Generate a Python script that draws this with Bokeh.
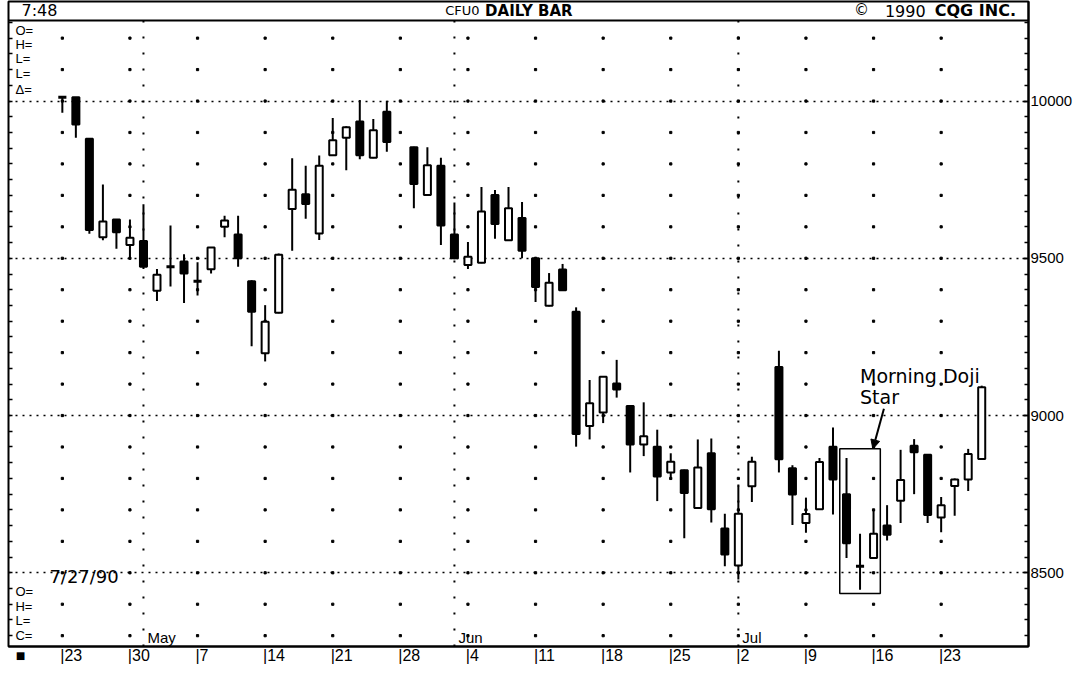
import numpy as np
from bokeh.plotting import figure
from bokeh.models import (ColumnDataSource, FixedTicker, LinearAxis, Label, Span,
                          BoxAnnotation, Arrow, NormalHead, Range1d, CustomJSTickFormatter)
from bokeh.embed import file_html
from bokeh.resources import INLINE

# ---------------- data ----------------
dates = ["1990-04-23", "1990-04-24", "1990-04-25", "1990-04-26", "1990-04-27",
         "1990-04-30", "1990-05-01", "1990-05-02", "1990-05-03", "1990-05-04",
         "1990-05-07", "1990-05-08", "1990-05-09", "1990-05-10", "1990-05-11",
         "1990-05-14", "1990-05-15", "1990-05-16", "1990-05-17", "1990-05-18",
         "1990-05-21", "1990-05-22", "1990-05-23", "1990-05-24", "1990-05-25",
         "1990-05-29", "1990-05-30", "1990-05-31", "1990-06-01",
         "1990-06-04", "1990-06-05", "1990-06-06", "1990-06-07", "1990-06-08",
         "1990-06-11", "1990-06-12", "1990-06-13", "1990-06-14", "1990-06-15",
         "1990-06-18", "1990-06-19", "1990-06-20", "1990-06-21", "1990-06-22",
         "1990-06-25", "1990-06-26", "1990-06-27", "1990-06-28", "1990-06-29",
         "1990-07-02", "1990-07-03", "1990-07-05", "1990-07-06",
         "1990-07-09", "1990-07-10", "1990-07-11", "1990-07-12", "1990-07-13",
         "1990-07-16", "1990-07-17", "1990-07-18", "1990-07-19", "1990-07-20",
         "1990-07-23", "1990-07-24", "1990-07-25", "1990-07-26"]

opens = [10012, 10012, 9880, 9567, 9623,
         9542, 9555, 9397, 9473, 9490,
         9427, 9465, 9600, 9576, 9427,
         9198, 9327, 9657, 9704, 9579,
         9828, 9883, 9935, 9820, 9966,
         9853, 9701, 9794, 9576,
         9479, 9486, 9701, 9557, 9628,
         9500, 9349, 9464, 9330, 8967,
         9010, 9102, 9030, 8908, 8901,
         8819, 8826, 8706, 8880, 8641,
         8523, 8775, 9154, 8832,
         8658, 8702, 8901, 8750, 8521,
         8547, 8650, 8729, 8904, 8875,
         8676, 8776, 8797, 8862]

highs = [10012, 10012, 9880, 9735, 9625,
         9623, 9672, 9466, 9604, 9513,
         9487, 9536, 9635, 9635, 9430,
         9351, 9515, 9818, 9794, 9827,
         9946, 9920, 10003, 9943, 10001,
         9855, 9853, 9820, 9677,
         9552, 9727, 9717, 9727, 9679,
         9502, 9453, 9482, 9344, 9113,
         9125, 9177, 9032, 9042, 8955,
         8880, 8828, 8924, 8927, 8688,
         8777, 8869, 9206, 8842,
         8739, 8865, 8962, 8865, 8624,
         8700, 8715, 8891, 8925, 8877,
         8741, 8800, 8894, 9095]

lows = [9963, 9883, 9578, 9557, 9530,
        9500, 9466, 9364, 9410, 9358,
        9382, 9452, 9567, 9473, 9220,
        9172, 9325, 9524, 9626, 9558,
        9825, 9780, 9815, 9818, 9839,
        9659, 9700, 9542, 9497,
        9466, 9484, 9562, 9555, 9500,
        9361, 9347, 9396, 8901, 8924,
        8976, 9057, 8819, 8871, 8728,
        8796, 8610, 8704, 8660, 8521,
        8479, 8725, 8819, 8652,
        8627, 8700, 8685, 8547, 8446,
        8545, 8603, 8658, 8750, 8658,
        8629, 8681, 8760, 8860]

closes = [10012, 9925, 9590, 9617, 9583,
          9565, 9473, 9448, 9473, 9452,
          9427, 9534, 9620, 9500, 9330,
          9298, 9511, 9718, 9673, 9794,
          9875, 9917, 9828, 9907, 9870,
          9736, 9796, 9604, 9500,
          9505, 9649, 9609, 9659, 9524,
          9409, 9422, 9398, 8941, 9039,
          9123, 9083, 8908, 8934, 8806,
          8853, 8754, 8835, 8702, 8558,
          8688, 8853, 8861, 8749,
          8687, 8852, 8797, 8594, 8521,
          8624, 8621, 8795, 8883, 8684,
          8715, 8797, 8878, 9090]

week_starts = ["1990-04-23", "1990-04-30", "1990-05-07", "1990-05-14", "1990-05-21",
               "1990-05-28", "1990-06-04", "1990-06-11", "1990-06-18", "1990-06-25",
               "1990-07-02", "1990-07-09", "1990-07-16", "1990-07-23"]
week_labels = ["23", "30", "7", "14", "21", "28", "4", "11", "18", "25", "2", "9", "16", "23"]
month_starts = ["1990-05-01", "1990-06-01", "1990-07-02"]
month_labels = ["May", "Jun", "Jul"]
price_ticks = [8500, 9000, 9500, 10000]
top_fields = ["O=", "H=", "L=", "L=", "\u0394="]
bottom_fields = ["O=", "H=", "L=", "C="]
chart_date = "7/27/90"
pattern_dates = ["1990-07-12", "1990-07-13", "1990-07-16"]
pattern_text = ["Morning Doji", "Star"]

FIRST = np.datetime64("1990-04-23")


def slot_of(ds):
    return np.busday_count(FIRST, np.array(ds, dtype="datetime64[D]")).astype(float)


# ---------------- geometry ----------------
SLOT_PX = 13.56      # px per trading-day slot
X0 = 62.0            # x of first slot
Y10K = 108.0         # y of 10000 (reference)
PPU = 3.125          # price units per px (reference)
W, H = 1075, 666
F_LEFT, F_RIGHT, F_TOP, F_BOTTOM = 8, 1031, 1, 648   # frame in figure px
REF_HDR, REF_BOT = 26.0, 663.0
FIG_HDR = 20.0
K = (F_BOTTOM - FIG_HDR) / (REF_BOT - REF_HDR)
FONT = "Liberation Sans"
DV = "DejaVu Sans"


def dx(rx):
    return (rx - X0) / SLOT_PX


def dy(ry):
    return 10000 - (ry - Y10K) * PPU


def fig2ref_y(fy):
    return REF_HDR + (fy - FIG_HDR) / K


y_lo = dy(fig2ref_y(F_BOTTOM))
y_hi = dy(fig2ref_y(F_TOP))
y_hdr = dy(REF_HDR)

p = figure(width=W, height=H, output_backend="svg", toolbar_location=None,
           x_range=Range1d(dx(F_LEFT), dx(F_RIGHT)),
           y_range=Range1d(y_lo, y_hi),
           y_axis_location="right",
           min_border_left=F_LEFT, min_border_right=W - F_RIGHT,
           min_border_top=F_TOP, min_border_bottom=H - F_BOTTOM,
           background_fill_color="white", border_fill_color="white")
p.outline_line_color = "black"
p.outline_line_width = 2

# horizontal dotted grid lines
p.xgrid.visible = False
p.ygrid.ticker = FixedTicker(ticks=price_ticks)
p.ygrid.grid_line_color = "black"
p.ygrid.grid_line_dash = "2 5"
p.ygrid.grid_line_width = 1.5

# month dotted verticals (stop at header line)
ms = slot_of(month_starts)
p.segment(x0=ms, y0=np.full(len(ms), y_lo), x1=ms, y1=np.full(len(ms), y_hdr),
          line_color="black", line_width=2, line_dash="2 14")

# sparse dot grid: weekly x 100-point levels
wk = slot_of(week_starts)
levels = np.arange(8300, 10201, 100)
gx, gy = np.meshgrid(wk, levels)
p.scatter(gx.ravel(), gy.ravel(), marker="square", size=2.2, color="black")

# header line
p.add_layout(Span(location=y_hdr, dimension="width", line_color="black", line_width=2))

# candles
o = np.array(opens, float)
c = np.array(closes, float)
hi = np.array(highs, float)
lo = np.array(lows, float)
xs = slot_of(dates)
body = c != o
src = ColumnDataSource(dict(x=xs[body], top=np.maximum(o, c)[body], bottom=np.minimum(o, c)[body],
                            fill=np.where(c > o, "white", "black")[body]))
p.segment(x0=xs, y0=hi, x1=xs, y1=lo, line_color="black", line_width=2)
p.vbar(x="x", width=0.52, top="top", bottom="bottom", fill_color="fill",
       line_color="black", line_width=2, source=src)
dj = ~body
p.segment(x0=xs[dj] - 0.3, y0=o[dj], x1=xs[dj] + 0.3, y1=o[dj], line_color="black", line_width=3)

# bottom axis: "|dd" labels whose bar sits on each Monday
LBL_FS = 16
bar_w = 0.26 * LBL_FS
dig_w = 0.556 * LBL_FS
lab_text = ["|" + l for l in week_labels]
lab_ticks = [float(w + ((bar_w + dig_w * len(l)) / 2 - bar_w / 2) / SLOT_PX)
             for w, l in zip(wk, week_labels)]
lab_ticks = [dx(20)] + lab_ticks
lab_text = ["\u25a0"] + lab_text
xa = p.xaxis[0]
xa.ticker = FixedTicker(ticks=lab_ticks, minor_ticks=[])
xa.formatter = CustomJSTickFormatter(args=dict(tk=lab_ticks, lb=lab_text), code="""
let best = 0, bd = 1e9;
for (let i = 0; i < tk.length; i++) { const d = Math.abs(tk[i] - tick); if (d < bd) { bd = d; best = i; } }
return lb[best];
""")
xa.major_tick_line_color = None
xa.minor_tick_line_color = None
xa.major_tick_in = 0
xa.major_tick_out = 0
xa.minor_tick_in = 0
xa.minor_tick_out = 0
xa.axis_line_width = 2
xa.axis_line_color = "black"
xa.major_label_standoff = 0
xa.major_label_text_font = FONT
xa.major_label_text_font_size = f"{LBL_FS}px"
xa.major_label_text_color = "black"

# right price axis
ya = p.yaxis[0]
ya.ticker = FixedTicker(ticks=price_ticks, minor_ticks=list(np.arange(8300, 10251, 50)))
ya.axis_line_width = 2
ya.axis_line_color = "black"
ya.major_tick_in = 6
ya.major_tick_out = 0
ya.minor_tick_in = 4
ya.minor_tick_out = 0
ya.major_tick_line_width = 1.5
ya.minor_tick_line_width = 1.5
ya.major_tick_line_color = "black"
ya.minor_tick_line_color = "black"
ya.major_label_text_font = FONT
ya.major_label_text_font_size = "15px"
ya.major_label_text_color = "black"
ya.major_label_standoff = 2

# left tick marks
la = LinearAxis(ticker=FixedTicker(ticks=[], minor_ticks=list(np.arange(8300, 10251, 50))),
                axis_line_color=None, major_tick_line_color=None,
                minor_tick_in=4, minor_tick_out=0, minor_tick_line_width=1.5,
                minor_tick_line_color="black",
                major_label_text_font_size="0px", major_label_standoff=0)
p.add_layout(la, "left")


def add_label(text, rx, ry, size, bold=False, baseline="middle", font=FONT):
    p.add_layout(Label(x=dx(rx), y=dy(ry), text=text,
                       text_font=font, text_font_size=f"{size}px",
                       text_font_style="bold" if bold else "normal",
                       text_baseline=baseline, text_align="left", text_color="black"))


# header (reference pixel positions)
add_label("7:48", 21, 16, 16, font=DV)
add_label("CFU0", 446, 16, 13, font=DV)
add_label("DAILY BAR", 486, 16, 15, bold=True, font=DV)
add_label("\u00a9", 856, 15, 15, font=DV)
add_label("1990", 887, 16, 16, font=DV)
add_label("CQG INC.", 937, 16, 16, bold=True, font=DV)

# side fields
for t, ry in zip(top_fields, [36, 50, 65, 80, 96]):
    add_label(t, 15, ry, 13)
add_label(chart_date, 49, 592, 18, font=DV)
for t, ry in zip(bottom_fields, [607, 622, 637, 652]):
    add_label(t, 15, ry, 13)

# month labels
for m, s in zip(month_labels, ms):
    p.add_layout(Label(x=s + 4 / SLOT_PX, y=1, y_units="screen", text=m, text_font=FONT,
                       text_font_size="15px", text_baseline="bottom", text_color="black"))

# Morning Doji Star box, arrow and text
ps = slot_of(pattern_dates)
pm = np.isin(np.array(dates), pattern_dates)
box_top = hi[pm].max() + 29
box_bot = lo[pm].min() - 12
p.add_layout(BoxAnnotation(left=ps.min() - 0.5, right=ps.max() + 0.5, top=box_top, bottom=box_bot,
                           fill_color=None, fill_alpha=0, line_color="black", line_alpha=1,
                           line_width=1.5))
p.add_layout(Arrow(end=NormalHead(size=9, fill_color="black", line_color="black"),
                   x_start=dx(886), y_start=dy(421), x_end=ps.max() - 0.05, y_end=box_top,
                   line_color="black", line_width=2))
add_label(pattern_text[0], 862, 377, 19, baseline="top", font=DV)
add_label(pattern_text[1], 862, 398, 19, baseline="top", font=DV)

open("out.html", "w").write(file_html(p, INLINE))
